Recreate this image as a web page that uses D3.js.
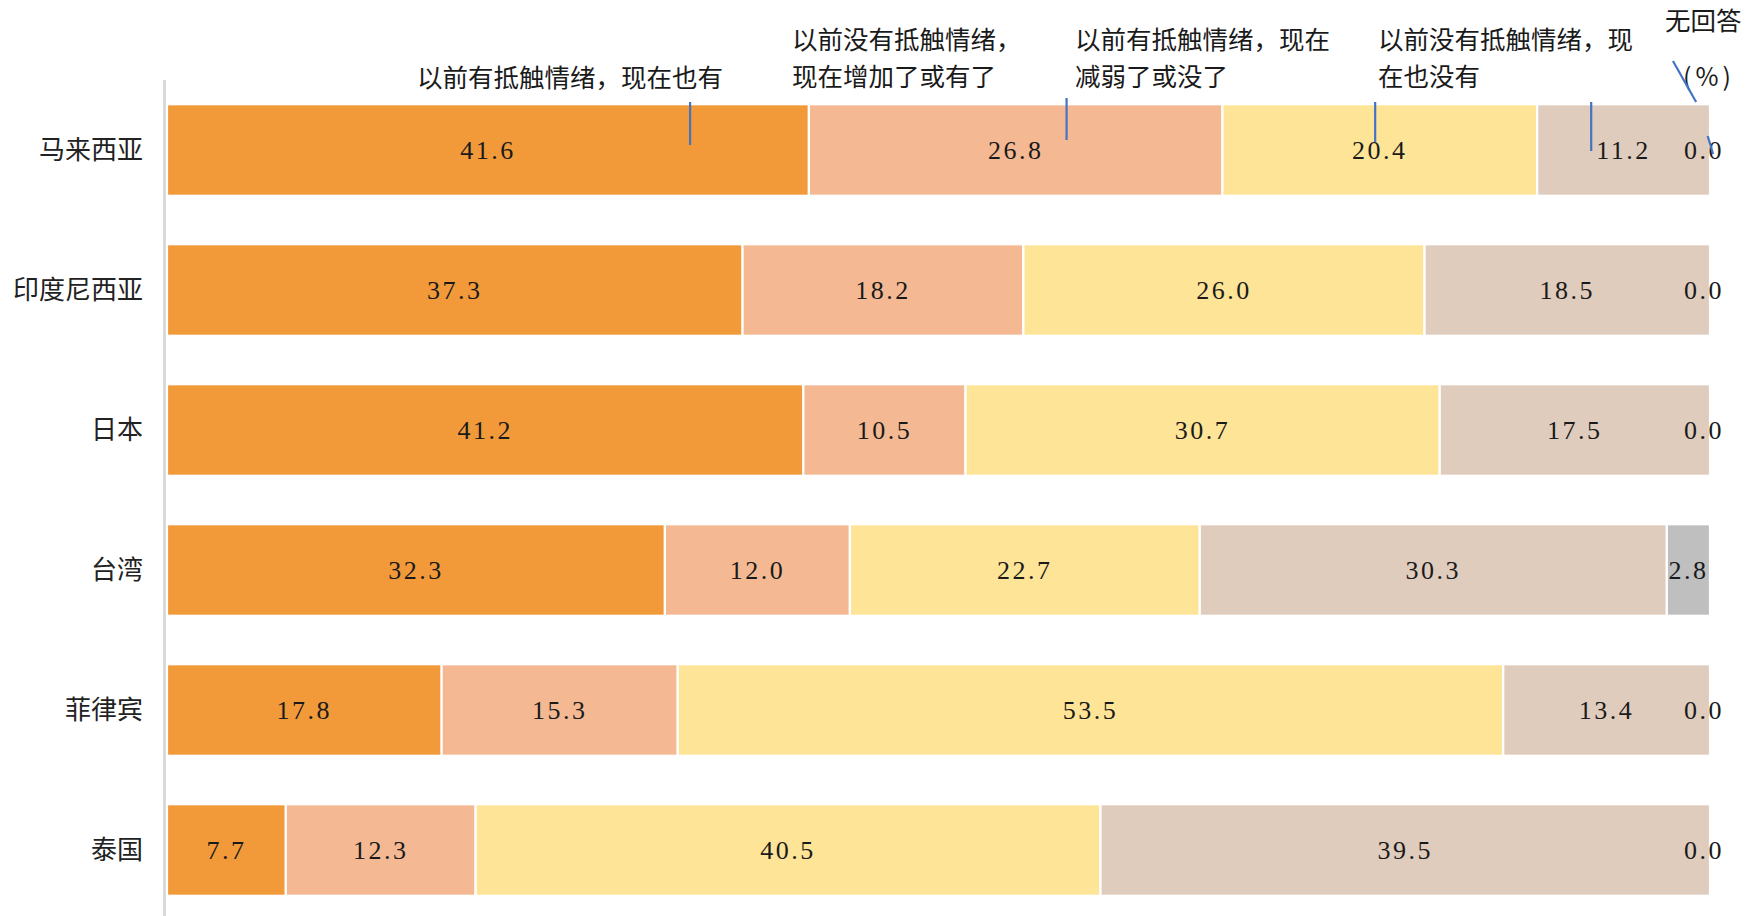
<!DOCTYPE html>
<html><head><meta charset="utf-8">
<script src="https://cdn.jsdelivr.net/npm/d3@7"></script>
<style>html,body{margin:0;padding:0;background:#fff;}svg{display:block;}</style>
</head><body>
<script>
const categories = ["马来西亚","印度尼西亚","日本","台湾","菲律宾","泰国"];
const seriesNames = ["以前有抵触情绪，现在也有","以前没有抵触情绪，现在增加了或有了","以前有抵触情绪，现在减弱了或没了","以前没有抵触情绪，现在也没有","无回答"];
const s1 = [41.6, 37.3, 41.2, 32.3, 17.8, 7.7];
const s2 = [26.8, 18.2, 10.5, 12.0, 15.3, 12.3];
const s3 = [20.4, 26.0, 30.7, 22.7, 53.5, 40.5];
const s4 = [11.2, 18.5, 17.5, 30.3, 13.4, 39.5];
const s5 = [0.0, 0.0, 0.0, 2.8, 0.0, 0.0];
const colors = ["#F29A3A","#F4B993","#FEE497","#E0CCBD","#BFBFBF"];

const W = 1745, H = 916;
const svg = d3.select("body").append("svg").attr("width", W).attr("height", H);

const allSeries = [s1, s2, s3, s4, s5];
const rows = categories.map((c, i) => {
  const o = {cat: c};
  seriesNames.forEach((s, k) => o[s] = allSeries[k][i]);
  return o;
});
const stack = d3.stack().keys(seriesNames).offset(d3.stackOffsetExpand);
const layers = stack(rows);

const x = d3.scaleLinear().domain([0, 1]).range([167, 1710]);
const y = d3.scaleBand().domain(categories).range([80, 920]).paddingInner(0.346).paddingOuter(0.173);

// axis line
svg.append("line").attr("x1", 164.5).attr("x2", 164.5).attr("y1", 80).attr("y2", 916)
  .attr("stroke", "#D9D9D9").attr("stroke-width", 3);

const g = svg.append("g");
layers.forEach((layer, k) => {
  g.selectAll(null).data(layer).enter().append("rect")
    .attr("x", d => x(d[0]))
    .attr("y", d => y(d.data.cat))
    .attr("width", d => Math.max(0, x(d[1]) - x(d[0])))
    .attr("height", y.bandwidth())
    .attr("fill", colors[k])
    .attr("stroke", "#fff").attr("stroke-width", 2.2);
});

// value labels
layers.forEach((layer, k) => {
  g.selectAll(null).data(layer).enter().append("text")
    .attr("x", d => (x(d[0]) + x(d[1])) / 2 - (d.data[seriesNames[k]] === 0 ? 6 : 0))
    .attr("y", d => y(d.data.cat) + y.bandwidth() / 2)
    .attr("dy", "0.36em")
    .attr("text-anchor", "middle")
    .attr("font-family", "'Liberation Serif','DejaVu Serif',serif")
    .attr("font-size", 26)
    .attr("letter-spacing", 2.5)
    .attr("fill", "#1a1a1a")
    .text(d => d.data[seriesNames[k]].toFixed(1));
});

// category labels
svg.selectAll(null).data(categories).enter().append("text")
  .attr("x", 143)
  .attr("y", d => y(d) + y.bandwidth() / 2)
  .attr("dy", "0.35em")
  .attr("text-anchor", "end")
  .attr("font-family", "'Noto Sans CJK SC',sans-serif")
  .attr("font-size", 26)
  .attr("fill", "#222")
  .text(d => d);

// series annotations (legend-like labels)
const annLines = [
  {lines: ["以前有抵触情绪，现在也有"], x: 417, y: [78]},
  {lines: ["以前没有抵触情绪，", "现在增加了或有了"], x: 792, y: [40, 77]},
  {lines: ["以前有抵触情绪，现在", "减弱了或没了"], x: 1075, y: [40, 77]},
  {lines: ["以前没有抵触情绪，现", "在也没有"], x: 1378, y: [40, 77]},
  {lines: ["无回答"], x: 1665, y: [21]}
];
annLines.forEach(a => {
  a.lines.forEach((t, i) => {
    svg.append("text").attr("x", a.x).attr("y", a.y[i]).attr("dy", "0.35em")
      .attr("font-family", "'Noto Sans CJK SC',sans-serif")
      .attr("font-size", 25.5).attr("fill", "#1a1a1a").text(t);
  });
});
svg.append("text").attr("x", 1709).attr("y", 77).attr("dy", "0.35em")
  .attr("text-anchor", "middle")
  .attr("font-family", "'Noto Sans CJK SC',sans-serif")
  .attr("letter-spacing", 4)
  .attr("font-size", 25).attr("fill", "#1a1a1a").text("(%)");

// leader lines
const leaders = [
  {x1: 0.339, y1: 102, x2: 0.339, y2: 145},
  {x1: 0.583, y1: 98, x2: 0.583, y2: 140},
  {x1: 0.783, y1: 102, x2: 0.783, y2: 142},
  {x1: 0.923, y1: 102, x2: 0.923, y2: 151},
  {x1: 0.976, y1: 61, x2: 0.991, y2: 102},
  {x1: 0.9985, y1: 136, x2: 1.002, y2: 154}
];
svg.selectAll(null).data(leaders).enter().append("line")
  .attr("x1", d => x(d.x1)).attr("y1", d => d.y1)
  .attr("x2", d => x(d.x2)).attr("y2", d => d.y2)
  .attr("stroke", "#4472C4").attr("stroke-width", 2.2);
</script>
</body></html>
